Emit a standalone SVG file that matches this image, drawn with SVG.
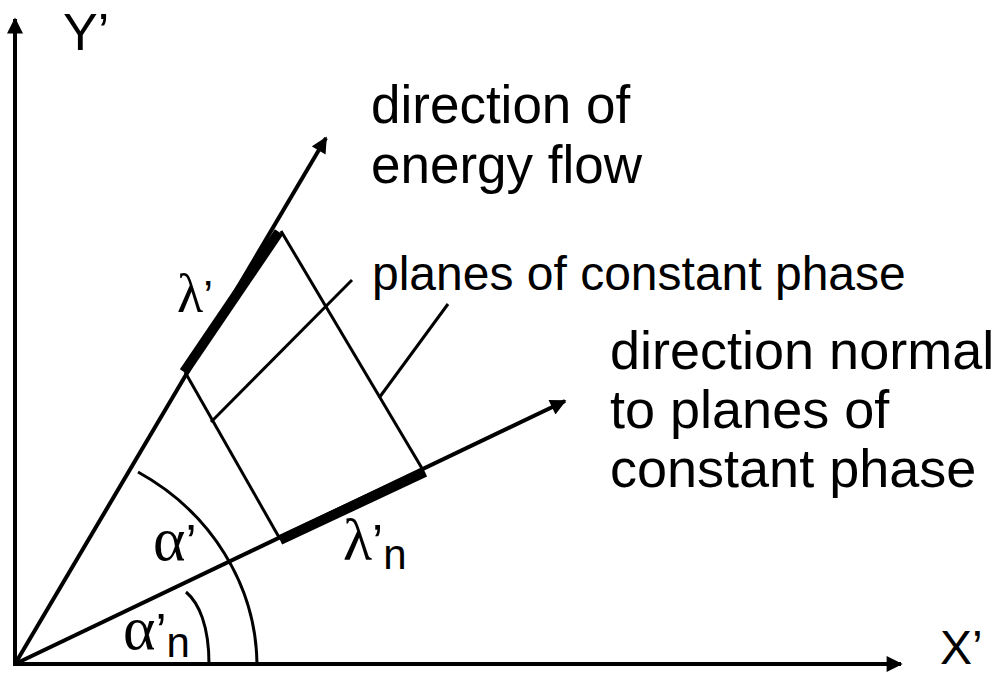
<svg xmlns="http://www.w3.org/2000/svg" width="995" height="675" viewBox="0 0 995 675">
  <defs>
    <marker id="arrow" viewBox="0 0 10 10" refX="9" refY="5" markerWidth="4.5" markerHeight="4" markerUnits="strokeWidth" orient="auto">
      <path d="M0,0 L10,5 L0,10 Z" fill="#000"/>
    </marker>
    <style>
      .ax { stroke:#000; stroke-width:4; fill:none; }
      .thin { stroke:#000; stroke-width:3; fill:none; }
      .thick { stroke:#000; stroke-width:10; fill:none; }
      .lbl { font-family:"Liberation Sans", Arial, sans-serif; fill:#000; }
      .grk { font-family:"Liberation Serif", "Times New Roman", serif; fill:#000; }
    </style>
  </defs>
  <rect width="995" height="675" fill="#fff"/>

  <g id="connectors">
    <line id="y-axis" class="ax" x1="15" y1="666" x2="15" y2="19" marker-end="url(#arrow)"/>
    <line id="x-axis" class="ax" x1="13" y1="664" x2="901" y2="664" marker-end="url(#arrow)"/>
    <line id="energy-flow" class="ax" x1="15" y1="664" x2="326" y2="138" marker-end="url(#arrow)"/>
    <line id="normal-dir" class="ax" x1="15" y1="664" x2="565" y2="401" marker-end="url(#arrow)"/>
    <line id="lambda-seg" class="thick" x1="184" y1="372" x2="279" y2="232"/>
    <line id="lambda-n-seg" class="thick" x1="280" y1="540" x2="425" y2="472"/>
    <line id="plane-1" class="thin" x1="185" y1="372" x2="280" y2="539"/>
    <line id="plane-2" class="thin" x1="281" y1="231" x2="423" y2="470"/>
    <line id="leader-1" class="thin" x1="352" y1="280" x2="211" y2="422"/>
    <line id="leader-2" class="thin" x1="448" y1="304" x2="379" y2="398"/>
    <path id="arc-alpha" class="thin" d="M138,472 A242,226 0 0 1 257,664"/>
    <path id="arc-alpha-n" class="thin" d="M186,592 C199,603 209,626 209,664"/>
  </g>

  <g id="label-y"><text class="lbl" x="63" y="50" font-size="52">Y’</text></g>
  <g id="label-x"><text class="lbl" x="940" y="664" font-size="48">X’</text></g>
  <g id="label-energy">
    <text class="lbl" font-size="53"><tspan x="371" y="123">direction of</tspan><tspan x="371" y="183">energy flow</tspan></text>
  </g>
  <g id="label-planes"><text class="lbl" x="372" y="290" font-size="48">planes of constant phase</text></g>
  <g id="label-normal">
    <text class="lbl" font-size="54"><tspan x="610" y="369">direction normal</tspan><tspan x="610" y="428">to planes of</tspan><tspan x="610" y="487">constant phase</tspan></text>
  </g>
  <g id="label-lambda"><text x="177" y="312"><tspan class="grk" font-size="54">λ</tspan><tspan class="lbl" font-size="44">’</tspan></text></g>
  <g id="label-lambda-n"><text x="343" y="560"><tspan class="grk" font-size="60">λ</tspan><tspan class="lbl" font-size="50">’</tspan><tspan class="lbl" font-size="42" dy="9">n</tspan></text></g>
  <g id="label-alpha"><text x="153" y="560"><tspan class="grk" font-size="62">α</tspan><tspan class="lbl" font-size="50">’</tspan></text></g>
  <g id="label-alpha-n"><text x="123" y="649"><tspan class="grk" font-size="62">α</tspan><tspan class="lbl" font-size="50">’</tspan><tspan class="lbl" font-size="42" dy="8">n</tspan></text></g>
</svg>
